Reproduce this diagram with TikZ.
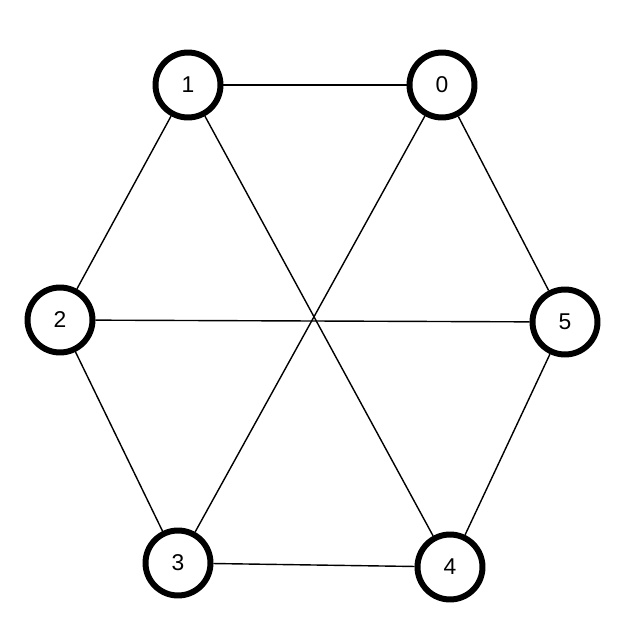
\documentclass[tikz,border=0pt]{standalone}
\usepackage{fontspec}
\setmainfont{Liberation Sans}
\tikzset{vertex/.style={circle,draw,line width=3.4pt,minimum size=1.3cm,inner sep=0pt,font=\fontsize{13}{15}\selectfont}}
\begin{document}
\begin{tikzpicture}[x=0.02cm,y=-0.02cm,line width=0.8pt]
  \useasboundingbox (0,0) rectangle (642,638);
  \node[vertex](v1) at (188,85){1};
  \node[vertex](v0) at (442,85){0};
  \node[vertex](v2) at (60,320){2};
  \node[vertex](v5) at (565,322){5};
  \node[vertex](v3) at (178,563){3};
  \node[vertex](v4) at (450,567){4};
  \draw (v1) -- (v0);
  \draw (v1) -- (v2);
  \draw (v0) -- (v5);
  \draw (v2) -- (v3);
  \draw (v5) -- (v4);
  \draw (v3) -- (v4);
  \draw (v1) -- (v4);
  \draw (v0) -- (v3);
  \draw (v2) -- (v5);
\end{tikzpicture}
\end{document}
